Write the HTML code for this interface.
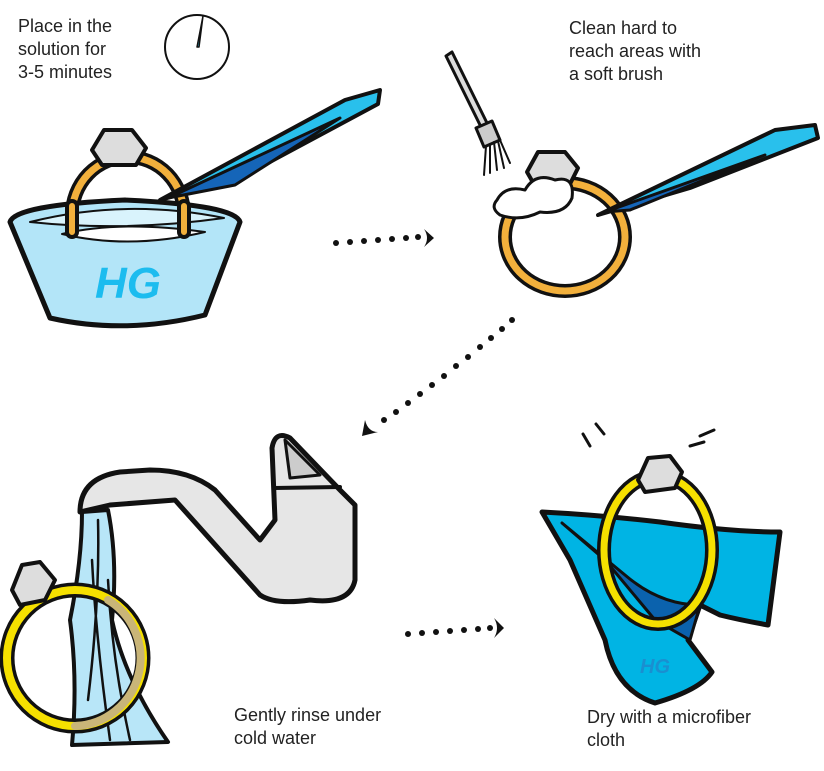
<!DOCTYPE html>
<html><head><meta charset="utf-8"><style>
html,body{margin:0;padding:0;background:#fff;width:824px;height:771px;overflow:hidden}
svg{display:block}
text{font-family:"Liberation Sans",sans-serif;font-size:18px;fill:#222}
</style></head><body>
<svg width="824" height="771" viewBox="0 0 824 771" xmlns="http://www.w3.org/2000/svg">
<g stroke="#111" stroke-linejoin="round" stroke-linecap="round">
<!-- Step 1 text & clock -->
<text x="18" y="32" stroke="none">Place in the</text>
<text x="18" y="55" stroke="none">solution for</text>
<text x="18" y="78" stroke="none">3-5 minutes</text>
<circle cx="197" cy="47" r="32" fill="#fff" stroke-width="2"/>
<path d="M197 47 L203 16 L199 47Z" fill="#29c0ec" stroke-width="1.5"/>

<!-- ring 1 -->
<ellipse cx="128" cy="215" rx="56" ry="58" fill="none" stroke="#111" stroke-width="14"/>
<ellipse cx="128" cy="215" rx="56" ry="58" fill="none" stroke="#f2b03c" stroke-width="7"/>
<path d="M92 150 L104 130 L132 130 L146 148 L136 165 L102 165Z" fill="#ddd" stroke-width="4"/>
<!-- tweezers 1 -->
<path d="M160 200 L345 100 L380 90 L378 104 L240 178 Z" fill="#29c0ec" stroke-width="4"/>
<path d="M168 198 L340 118 L235 185 Z" fill="#1565b8" stroke-width="3"/>
<!-- bowl -->
<path d="M10 222 Q15 205 125 200 Q235 205 240 222 L205 315 Q125 335 50 318 Z" fill="#b3e5f8" stroke-width="5"/>
<path d="M30 222 Q125 198 224 218 Q125 232 30 222Z" fill="#d9f3fc" stroke-width="2"/>
<path d="M62 234 Q120 220 205 232 Q130 250 62 234Z" fill="#fff" stroke-width="2"/>
<path d="M72 232 L72 206 M184 232 L184 206" stroke="#111" stroke-width="14"/>
<path d="M72 232 L72 206 M184 232 L184 206" stroke="#f2b03c" stroke-width="6"/>
<text x="95" y="298" stroke="none" style="font-size:44px;font-weight:bold;font-style:italic;fill:#1cbcef">HG</text>

<!-- arrows -->
<g fill="#111" stroke="none">
<circle cx="336" cy="243" r="3"/><circle cx="350" cy="242" r="3"/><circle cx="364" cy="241" r="3"/><circle cx="378" cy="240" r="3"/><circle cx="392" cy="239" r="3"/><circle cx="406" cy="238" r="3"/><circle cx="418" cy="237" r="3"/>
<path d="M424 229 L434 238 L424 247 Q430 238 424 229Z"/>
<circle cx="512" cy="320" r="3"/><circle cx="502" cy="329" r="3"/><circle cx="491" cy="338" r="3"/><circle cx="480" cy="347" r="3"/><circle cx="468" cy="357" r="3"/><circle cx="456" cy="366" r="3"/><circle cx="444" cy="376" r="3"/><circle cx="432" cy="385" r="3"/><circle cx="420" cy="394" r="3"/><circle cx="408" cy="403" r="3"/><circle cx="396" cy="412" r="3"/><circle cx="384" cy="420" r="3"/>
<path d="M362 436 L365 420 Q368 432 378 432Z"/>
<circle cx="408" cy="634" r="3"/><circle cx="422" cy="633" r="3"/><circle cx="436" cy="632" r="3"/><circle cx="450" cy="631" r="3"/><circle cx="464" cy="630" r="3"/><circle cx="478" cy="629" r="3"/><circle cx="490" cy="628" r="3"/>
<path d="M494 618 L504 628 L494 638 Q500 628 494 618Z"/>
</g>

<!-- Step 2 -->
<text x="569" y="34" stroke="none">Clean hard to</text>
<text x="569" y="57" stroke="none">reach areas with</text>
<text x="569" y="80" stroke="none">a soft brush</text>
<path d="M446 56 L452 52 L488 125 L482 129 Z" fill="#ddd" stroke-width="3"/>
<path d="M476 128 L492 121 L500 140 L484 147Z" fill="#ccc" stroke-width="3"/>
<path d="M486 146 L484 175 M490 144 L490 173 M494 142 L497 170 M498 141 L504 168 M500 140 L510 163" stroke-width="2"/>
<ellipse cx="565" cy="237" rx="60" ry="54" fill="none" stroke="#111" stroke-width="14"/>
<ellipse cx="565" cy="237" rx="60" ry="54" fill="none" stroke="#f2b03c" stroke-width="7"/>
<path d="M527 172 L538 152 L565 152 L578 168 L570 184 L535 186Z" fill="#ddd" stroke-width="4"/>
<path d="M497 200 Q505 185 525 190 Q535 172 555 180 Q575 175 572 198 Q565 215 540 212 Q520 222 500 215 Q490 208 497 200Z" fill="#fff" stroke-width="3"/>
<path d="M598 215 L775 130 L815 125 L818 138 L690 188 Z" fill="#29c0ec" stroke-width="4"/>
<path d="M605 212 L765 155 L630 210Z" fill="#1565b8" stroke-width="3"/>

<!-- Step 3 faucet -->
<path d="M80 512 Q80 478 120 472 L150 470 Q190 470 215 490 L260 540 L275 520 L272 448 Q275 430 290 438 L340 490 L355 505 L355 580 Q350 605 310 600 Q275 605 260 595 L175 500 L110 505 L80 512Z" fill="#e6e6e6" stroke-width="5"/>
<path d="M274 488 L340 487" stroke-width="4" fill="none"/>
<path d="M285 440 L320 475 L290 478Z" fill="#ccc" stroke-width="3"/>
<path d="M82 512 L108 510 Q118 560 112 620 Q125 680 168 742 L72 745 Q78 680 70 620 Q82 560 82 512Z" fill="#b8e6f8" stroke-width="4"/>
<path d="M98 520 Q100 600 88 700 M92 560 Q96 640 110 740 M108 580 Q112 660 130 740" stroke-width="2.5" fill="none"/>
<ellipse cx="75" cy="658" rx="68" ry="68" fill="none" stroke="#111" stroke-width="15"/>
<ellipse cx="75" cy="658" rx="68" ry="68" fill="none" stroke="#f5e000" stroke-width="8"/>
<path d="M108 600 A68 68 0 0 1 75 726" fill="none" stroke="#c9b578" stroke-width="8"/>
<path d="M12 590 L22 565 L40 562 L55 580 L45 600 L20 605Z" fill="#ddd" stroke-width="4"/>
<text x="234" y="721" stroke="none">Gently rinse under</text>
<text x="234" y="744" stroke="none">cold water</text>

<!-- Step 4 cloth -->
<path d="M583 434 L590 446 M596 424 L604 434 M700 436 L714 430 M704 442 L690 446" stroke-width="3"/>
<path d="M542 512 Q600 515 660 522 Q730 532 780 532 L768 625 Q740 620 720 615 L700 605 L688 640 L712 672 Q700 690 655 703 Q615 690 605 640 L570 560 Z" fill="#00b4e4" stroke-width="5"/>
<path d="M562 523 L625 575 Q660 605 700 605 L690 640 L655 620 L605 560Z" fill="#0b62ad" stroke-width="3"/>
<ellipse cx="658" cy="550" rx="54" ry="74" fill="none" stroke="#111" stroke-width="14"/>
<ellipse cx="658" cy="550" rx="54" ry="74" fill="none" stroke="#f5e000" stroke-width="7"/>
<path d="M638 480 L648 458 L670 456 L682 472 L675 488 L645 492Z" fill="#ddd" stroke-width="4"/>
<text x="640" y="673" stroke="none" style="font-size:20px;font-weight:bold;font-style:italic;fill:#1a8fd0">HG</text>
<text x="587" y="723" stroke="none">Dry with a microfiber</text>
<text x="587" y="746" stroke="none">cloth</text>
</g>
</svg>
</body></html>
